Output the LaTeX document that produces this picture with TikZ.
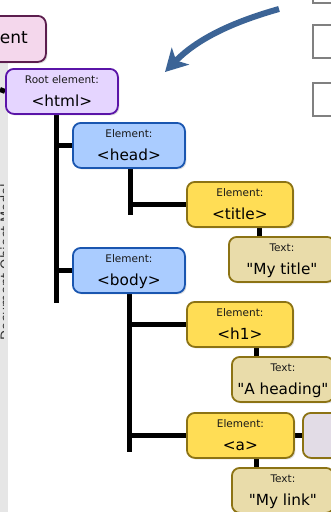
\documentclass[tikz,border=0pt]{standalone}
\usepackage{fontspec}
\setmainfont{DejaVu Sans}
\usetikzlibrary{shadows,arrows.meta,calc,backgrounds}
\definecolor{pinkF}{HTML}{F4D7EC}
\definecolor{pinkD}{HTML}{5C1E4E}
\definecolor{rootF}{HTML}{E5D5FF}
\definecolor{rootD}{HTML}{5A14A8}
\definecolor{blueF}{HTML}{AACCFF}
\definecolor{blueD}{HTML}{1A56B0}
\definecolor{yelF}{HTML}{FFDD55}
\definecolor{yelD}{HTML}{8C7314}
\definecolor{tanF}{HTML}{E9DCAA}
\definecolor{greyF}{HTML}{E2DCE6}
\definecolor{arrB}{HTML}{3C6496}
\definecolor{stripG}{HTML}{E6E6E6}
\tikzset{
  box/.style={draw, line width=1.8pt, rounded corners=8pt, anchor=north west, inner sep=0pt,
    drop shadow={opacity=0.25, shadow xshift=1.5pt, shadow yshift=-1.5pt}},
  rootbox/.style={box, fill=rootF, draw=rootD},
  bluebox/.style={box, fill=blueF, draw=blueD},
  yelbox/.style={box, fill=yelF, draw=yelD},
  tanbox/.style={box, fill=tanF, draw=yelD},
  greybox/.style={box, fill=greyF, draw=yelD},
  pinkbox/.style={box, fill=pinkF, draw=pinkD},
  small/.style={anchor=base, inner sep=0pt, font=\fontsize{10.5}{12}\selectfont, text=black!90},
  big/.style={anchor=base, inner sep=0pt, font=\fontsize{15.3}{18}\selectfont},
  tree/.style={line width=5pt, black},
  sq/.style={draw=black!50, line width=1.5pt, fill=white},
}
\newcommand\domBox[7]{%
  \node[#2, minimum width=#5pt, minimum height=45pt] (#1) at (#3,#4) {};
  \node[small] (#1-s) at ($(#1.north)+(0,15)$) {#6};
  \node[big] (#1-b) at ($(#1.north)+(0,38)$) {#7};
}
\newcommand\qq{\textquotedbl}
\begin{document}
\begin{tikzpicture}[x=1pt,y=-1pt]
\clip (0,0) rectangle (331,512);
\begin{scope}[on background layer]
\fill[white] (0,0) rectangle (331,512);
\fill[stripG] (0,61) rectangle (8,512);
\end{scope}
\begin{scope}
  \clip (0,61) rectangle (3,512);
  \node[rotate=90, inner sep=0pt, anchor=base, text=black!80, font=\fontsize{13}{15}\selectfont] (dom) at (10,262) {Document Object Model};
\end{scope}
% grey squares
\node[sq, anchor=north west, minimum width=40pt, minimum height=33pt, inner sep=0pt] (sq1) at (312,-31) {};
\node[sq, anchor=north west, minimum width=40pt, minimum height=33pt, inner sep=0pt] (sq2) at (312,24) {};
\node[sq, anchor=north west, minimum width=40pt, minimum height=33pt, inner sep=0pt] (sq3) at (312,82) {};
% pink box
\node[pinkbox, minimum width=100pt, minimum height=46pt] (doc) at (-55,15) {};
\node[inner sep=0pt, anchor=base east, font=\fontsize{17}{20}\selectfont] (docT) at (28,43) {ent};
% tree nodes
\coordinate (stub) at (0,89.5);
\coordinate (rt) at (56,303);
\coordinate (ht) at (130,215);
\coordinate (bt) at (129.5,452);
\domBox{root}{rootbox}{5}{68}{112}{Root element:}{<html>}
\domBox{head}{bluebox}{72}{122}{112}{Element:}{<head>}
\domBox{body}{bluebox}{72}{247}{112}{Element:}{<body>}
\domBox{title}{yelbox}{186}{181}{106}{Element:}{<title>}
\domBox{hone}{yelbox}{186}{301}{106}{Element:}{<h1>}
\domBox{alink}{yelbox}{186}{412}{107}{Element:}{<a>}
\domBox{ttitle}{tanbox}{228}{236}{106}{Text:}{\qq My title\qq}
\domBox{thead}{tanbox}{231}{356}{102}{Text:}{\qq A heading\qq}
\domBox{tlink}{tanbox}{231}{467}{102}{Text:}{\qq My link\qq}
\node[greybox, minimum width=108pt, minimum height=45pt] (attr) at (302,412) {};
% connectors
\begin{scope}[on background layer]
\draw[tree] (stub) -- (root.west);
\draw[tree] (root.south -| rt) -- (rt);
\draw[tree] (head.west) -- (head.west -| rt);
\draw[tree] (body.west) -- (body.west -| rt);
\draw[tree] (head.south -| ht) -- (ht);
\draw[tree] (title.west) -- (title.west -| ht);
\draw[tree] (body.south -| bt) -- (bt);
\draw[tree] (hone.west) -- (hone.west -| bt);
\draw[tree] (alink.west) -- (alink.west -| bt);
\draw[tree] ($(title.south west)+(73,0)$) coordinate (c1) -- (c1 |- ttitle.north);
\draw[tree] ($(hone.south west)+(70,0)$) coordinate (c2) -- (c2 |- thead.north);
\draw[tree] ($(alink.south west)+(70,0)$) coordinate (c3) -- (c3 |- tlink.north);
\draw[tree] (alink.east) -- (attr.west);
\end{scope}
% arrow
\coordinate (arS) at (279,9);
\coordinate (arE) at (165,72);
\draw[arrB, line width=6pt, -{Stealth[length=22pt,width=24pt,inset=6pt]}] (arS) .. controls (240,20) and (200,36) .. (arE);
\end{tikzpicture}
\end{document}
